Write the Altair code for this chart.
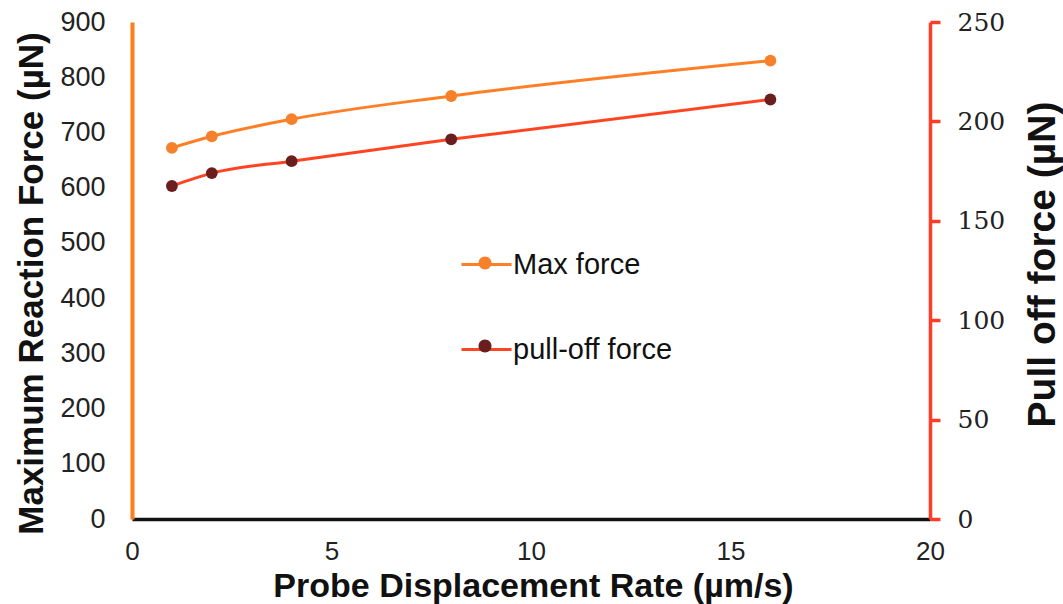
import altair as alt
import pandas as pd

# ---- data ----
rate = [1, 2, 4, 8, 16]                      # Probe displacement rate (µm/s)
max_force = [672, 693, 724, 766, 830]        # Maximum reaction force (µN), left axis
pull_off_force = [167.5, 174, 180, 191, 211] # Pull off force (µN), right axis
series_names = ["Max force", "pull-off force"]
marker_names = ["Max force marker", "pull-off force marker"]  # for the dot part of the legend
x_ticks = [0, 5, 10, 15, 20]
left_ticks = [0, 100, 200, 300, 400, 500, 600, 700, 800, 900]
right_ticks = [0, 50, 100, 150, 200, 250]

df_max = pd.DataFrame({"rate": rate, "value": max_force,
                       "series": series_names[0], "marker": marker_names[0]})
df_pull = pd.DataFrame({"rate": rate, "value": pull_off_force,
                        "series": series_names[1], "marker": marker_names[1]})

SANS = "Liberation Sans"
ORANGE_AXIS = "#FF7D1E"
RED_AXIS = "#FF3C28"

stroke_scale = alt.Scale(domain=series_names, range=["#FF7F27", "#FF4422"])
fill_scale = alt.Scale(domain=marker_names, range=["#F7812B", "#6B1E1E"])

LEG_X, LEG_Y, ROW_PAD = 328, 216, 43

line_legend = alt.Legend(
    orient="none", legendX=LEG_X, legendY=LEG_Y, padding=0,
    symbolType="stroke", symbolSize=2500, symbolStrokeWidth=3,
    labelFont=SANS, labelFontSize=29, labelColor="#111111", labelOffset=0,
    rowPadding=ROW_PAD, zindex=0,
)
dot_path = "M-0.26,0A0.26,0.26,0,1,1,0.26,0A0.26,0.26,0,1,1,-0.26,0Z"
dot_legend = alt.Legend(
    orient="none", legendX=LEG_X, legendY=LEG_Y, padding=0,
    symbolType=dot_path, symbolSize=2500, symbolStrokeWidth=0,
    labelFont=SANS, labelFontSize=29, labelExpr="''", labelOffset=0,
    rowPadding=ROW_PAD, zindex=1,
)

x_enc = alt.X(
    "rate:Q",
    scale=alt.Scale(domain=[0, 20], nice=False, zero=True),
    axis=alt.Axis(
        values=x_ticks, grid=False, ticks=False, tickSize=0,
        domainColor="#111111", domainWidth=3.5,
        labelFont=SANS, labelFontSize=26, labelColor="#222222",
        labelPadding=19, labelFlush=False, labelOverlap=False,
        title="Probe Displacement Rate (µm/s)", titleFont=SANS,
        titleFontSize=34, titleFontWeight="bold", titleColor="#111111",
        titleX=401, titleY=77, titleAlign="center", titleBaseline="alphabetic",
    ),
)

left_axis = alt.Axis(
    orient="left", values=left_ticks, grid=False, ticks=False, tickSize=0,
    domainColor=ORANGE_AXIS, domainWidth=4,
    labelFont=SANS, labelFontSize=27, labelColor="#222222", labelPadding=27,
    labelOverlap=False,
    title="Maximum Reaction Force (µN)", titleFont=SANS, titleFontSize=35,
    titleFontWeight="bold", titleColor="#111111", titleAngle=270,
    titleX=-90, titleY=261, titleAlign="center", titleBaseline="alphabetic",
)

right_axis = alt.Axis(
    orient="right", values=right_ticks, grid=False, ticks=True, tickSize=10,
    tickWidth=3.5, tickColor=RED_AXIS, domainColor=RED_AXIS, domainWidth=3.5,
    labelFont="DejaVu Serif", labelFontSize=25, labelColor="#222222",
    labelPadding=17, labelOverlap=False,
    title="Pull off force (µN)", titleFont=SANS, titleFontSize=39,
    titleFontWeight="bold", titleColor="#111111", titleAngle=270,
    titleX=124, titleY=242, titleAlign="center", titleBaseline="alphabetic",
)

base_max = alt.Chart(df_max).encode(
    x=x_enc,
    y=alt.Y("value:Q", scale=alt.Scale(domain=[0, 900], nice=False), axis=left_axis),
)
max_line = base_max.mark_line(interpolate="monotone", strokeWidth=3).encode(
    stroke=alt.Stroke("series:N", scale=stroke_scale, legend=line_legend, title=None)
)
max_pts = base_max.mark_circle(size=140, opacity=1).encode(
    fill=alt.Fill("marker:N", scale=fill_scale, legend=dot_legend, title=None)
)

base_pull = alt.Chart(df_pull).encode(
    x=x_enc,
    y=alt.Y("value:Q", scale=alt.Scale(domain=[0, 250], nice=False), axis=right_axis),
)
pull_line = base_pull.mark_line(interpolate="monotone", strokeWidth=3).encode(
    stroke=alt.Stroke("series:N", scale=stroke_scale, legend=line_legend, title=None)
)
pull_pts = base_pull.mark_circle(size=140, opacity=1).encode(
    fill=alt.Fill("marker:N", scale=fill_scale, legend=dot_legend, title=None)
)

chart = alt.layer(
    alt.layer(max_line, max_pts),
    alt.layer(pull_line, pull_pts),
).resolve_scale(y="independent").properties(
    width=798, height=497,
    autosize=alt.AutoSizeParams(type="none"),
    padding={"left": 132, "top": 22, "right": 133, "bottom": 85},
    background="white",
).configure_view(stroke=None)

chart.save("out.html", embed_options={"renderer": "svg", "actions": False})
